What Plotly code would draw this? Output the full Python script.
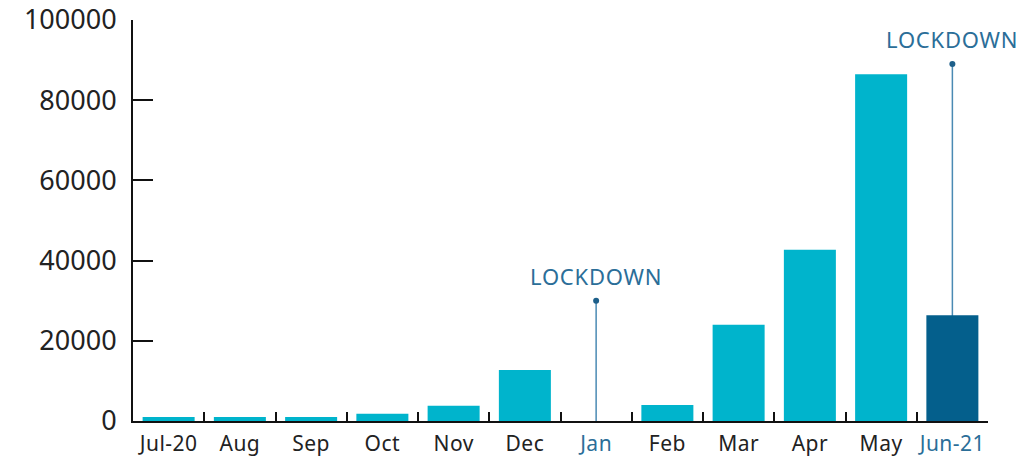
import plotly.graph_objects as go

months = ["Jul-20", "Aug", "Sep", "Oct", "Nov", "Dec", "Jan", "Feb", "Mar", "Apr", "May", "Jun-21"]
values = [1000, 1000, 1000, 1800, 3800, 12700, 0, 4000, 24000, 42700, 86500, 26400]
bar_colors = ["#00b4cc"] * 11 + ["#045f8c"]
highlight = {"Jan", "Jun-21"}
tick_vals_y = [0, 20000, 40000, 60000, 80000, 100000]

lockdown_months = ["Jan", "Jun-21"]
lockdown_heights = [30000, 89000]
lockdown_label = "LOCKDOWN"

blue_text = "#2b6e98"
FONT = "Noto Sans"

fig = go.Figure()
fig.add_trace(go.Bar(x=months, y=values, marker=dict(color=bar_colors, line=dict(width=0)),
                     hoverinfo="x+y"))
fig.add_trace(go.Scatter(x=lockdown_months, y=lockdown_heights, mode="markers",
                         marker=dict(size=6, color="#1d5f8a"), hoverinfo="skip"))

for m, h in zip(lockdown_months, lockdown_heights):
    fig.add_shape(type="line", xref="x", yref="y", x0=m, x1=m, y0=0, y1=h,
                  line=dict(color="#4a8ab3", width=1.5), layer="below")
    fig.add_annotation(x=m, y=h, xref="x", yref="y",
                       text=f'<span style="letter-spacing:0.8px">{lockdown_label}</span>',
                       showarrow=False, yshift=25,
                       font=dict(family=FONT, size=22, color=blue_text))


def tick_label(m):
    style = "letter-spacing:0.5px"
    if m in highlight:
        style += f";color:{blue_text}"
    return f'<span style="{style}">{m}</span>'


ticktext = [tick_label(m) for m in months]

fig.update_layout(
    width=1028, height=459,
    margin=dict(l=125, r=48, t=12, b=46),
    paper_bgcolor="white", plot_bgcolor="white",
    showlegend=False, bargap=0.27,
    font=dict(family=FONT, color="#222222"),
    xaxis=dict(
        range=[-0.5, len(months) - 0.5],
        categoryorder="array", categoryarray=months,
        tickmode="array", tickvals=months, ticktext=ticktext,
        tickfont=dict(size=21, color="#222222"), tickangle=0, automargin=False,
        ticklabelstandoff=3,
        showline=True, linecolor="#111111", linewidth=2,
        ticks="inside", tickson="boundaries", ticklen=9, tickwidth=2, tickcolor="#111111",
        showgrid=False, zeroline=False,
    ),
    yaxis=dict(
        range=[0, 100001], tickvals=tick_vals_y, ticktext=[str(v) for v in tick_vals_y],
        tickfont=dict(size=27, color="#222222"), automargin=False,
        ticklabeloverflow="allow",
        showline=True, linecolor="#111111", linewidth=2,
        ticks="inside", ticklen=20, tickwidth=2, tickcolor="#111111",
        showgrid=False, zeroline=False, ticklabelstandoff=9,
    ),
)

fig.write_html("out.html")
